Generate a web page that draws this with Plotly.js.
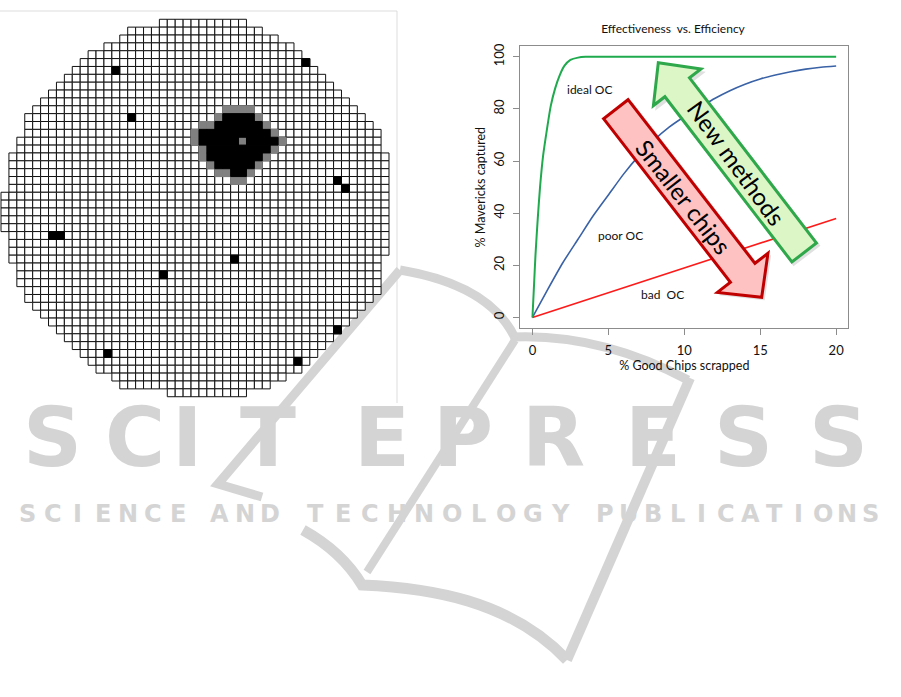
<!DOCTYPE html>
<html><head><meta charset="utf-8">
<script src="https://cdn.plot.ly/plotly-3.0.1.min.js"></script>
<style>html,body{margin:0;padding:0;background:#fff}#chart{width:901px;height:697px}</style>
</head><body><div id="chart"></div>
<script>
// ---------------- data ----------------
// Effectiveness vs. Efficiency curves
const xIdeal = [0,0.1,0.2,0.35,0.5,0.7,0.95,1.2,1.5,1.8,2.1,2.5,3.0,3.5,4,5,8,12,16,20];
const yIdeal = [0,12,24,38,50,62,72,81,88,93,96.5,98.8,99.7,100,100,100,100,100,100,100];
const xPoor = [0,1,2,3,4,5,6,7,8,9,10,11,12,13,14,15,16,17,18,19,20];
const yPoor = [0,10.7,21,30,39,47,55,62,68,73,77,80.5,84,87,89.5,91.5,93,94.3,95.3,96,96.5];
const xBad = [0,5,10,15,20];
const yBad = [0,9.5,19.2,28.6,38];
const xTickVals = [0,5,10,15,20];
const yTickVals = [0,20,40,60,80,100];
const curveNames = ['ideal OC','poor OC','bad\u00a0 OC'];

// Wafer map: first / last die column of each row (row 0 = top)
const rowFirst = [20,16,15,13,11,10,9,8,7,6,5,4,3,3,3,2,2,1,1,1,1,1,0,0,0,0,0,1,1,1,1,2,2,2,3,3,4,5,6,7,8,9,10,11,12,14,15,21];
const rowLast  = [30,32,34,36,37,38,39,40,41,42,43,44,45,46,47,47,47,48,48,48,48,48,48,48,48,48,48,48,48,48,47,47,47,47,47,46,45,44,43,42,41,40,39,38,37,35,33,30];
// failing dies (black)
const blackCol = [14,38,16,42,43,6,7,29,20,42,13,37,
  28,29,30,31,
  27,28,29,30,31,32,
  25,26,27,28,29,30,31,32,33,
  25,26,27,28,29,31,32,33,34,
  26,27,28,29,30,31,32,33,
  26,27,28,29,30,31,32,
  27,28,29,30,31,
  29,30];
const blackRow = [6,5,12,20,21,27,27,30,32,39,42,43,
  12,12,12,12,
  13,13,13,13,13,13,
  14,14,14,14,14,14,14,14,14,
  15,15,15,15,15,15,15,15,15,
  16,16,16,16,16,16,16,16,
  17,17,17,17,17,17,17,
  18,18,18,18,18,
  19,19];
// suspect dies (gray)
const grayCol = [28,29,30,31, 27,32, 25,26,33, 24,34, 24,30,35, 25,34, 25,33, 26,32, 27,28,31, 29,30];
const grayRow = [11,11,11,11, 12,12, 13,13,13, 14,14, 15,15,15, 16,16, 17,17, 18,18, 19,19,19, 20,20];

// ---------------- layout helpers (pixel -> paper) ----------------
const W = 901, H = 697;
const px = x => x / W, py = y => 1 - y / H;
function pathCmd(cmds){
  return cmds.map(c => c[0] + ' ' + c.slice(1).reduce((s,v,i,a)=> i%2 ? s : s + (s?' ':'') + px(a[i]).toFixed(5) + ',' + py(a[i+1]).toFixed(5), '')).join(' ');
}
function arrowPath(T, P, w, h, L){
  const dx = P[0]-T[0], dy = P[1]-T[1], len = Math.hypot(dx,dy);
  const ux = dx/len, uy = dy/len, nx = -uy, ny = ux;
  const B = [P[0]-ux*L, P[1]-uy*L];
  const pts = [[T[0]+nx*w,T[1]+ny*w],[B[0]+nx*w,B[1]+ny*w],[B[0]+nx*h,B[1]+ny*h],P,
               [B[0]-nx*h,B[1]-ny*h],[B[0]-nx*w,B[1]-ny*w],[T[0]-nx*w,T[1]-ny*w]];
  return pts.map((p,i)=>(i?'L':'M')+px(p[0]).toFixed(5)+','+py(p[1]).toFixed(5)).join(' ')+' Z';
}

// wafer die positions
const dieX = [], dieY = [];
for (let r = 0; r < rowFirst.length; r++)
  for (let c = rowFirst[r]; c <= rowLast[r]; c++) { dieX.push(c); dieY.push(r); }

const lineFont = 'Lato, "Open Sans", sans-serif';
const traces = [
  {x: dieX, y: dieY, xaxis:'x2', yaxis:'y2', type:'scatter', mode:'markers', cliponaxis:false, hoverinfo:'skip',
   marker:{symbol:'square', size:7.9, color:'#ffffff', line:{color:'#111111', width:1}}},
  {x: grayCol, y: grayRow, xaxis:'x2', yaxis:'y2', type:'scatter', mode:'markers', cliponaxis:false, hoverinfo:'skip',
   marker:{symbol:'square', size:7.9, color:'#808080', line:{color:'#808080', width:1}}},
  {x: blackCol, y: blackRow, xaxis:'x2', yaxis:'y2', type:'scatter', mode:'markers', cliponaxis:false, hoverinfo:'skip',
   marker:{symbol:'square', size:7.9, color:'#000000', line:{color:'#000000', width:1}}},
  {x: xBad, y: yBad, name: curveNames[2], type:'scatter', mode:'lines', line:{color:'#ff1a1a', width:1.6}},
  {x: xPoor, y: yPoor, name: curveNames[1], type:'scatter', mode:'lines', line:{color:'#3a62a6', width:1.6, shape:'spline', smoothing:0.6}},
  {x: xIdeal, y: yIdeal, name: curveNames[0], type:'scatter', mode:'lines', line:{color:'#1faa4e', width:2, shape:'spline', smoothing:0.6}}
];

const wmColor = '#d4d4d4';
const shapes = [
  {type:'line', xref:'paper', yref:'paper', x0:px(0), y0:py(11), x1:px(397), y1:py(11), line:{color:'#dddddd', width:1}, layer:'below'},
  {type:'line', xref:'paper', yref:'paper', x0:px(397), y0:py(11), x1:px(397), y1:py(403), line:{color:'#dddddd', width:1}, layer:'below'},
  {type:'path', xref:'paper', yref:'paper', layer:'below', line:{color:wmColor, width:9},
   path: pathCmd([['M',400,270],['Q',490,285,515,338]])},
  {type:'path', xref:'paper', yref:'paper', layer:'below', line:{color:wmColor, width:9},
   path: pathCmd([['M',512,337],['Q',600,333,688,380]])},
  {type:'path', xref:'paper', yref:'paper', layer:'below', line:{color:wmColor, width:8},
   path: pathCmd([['M',515,340],['L',367,572]])},
  {type:'path', xref:'paper', yref:'paper', layer:'below', line:{color:wmColor, width:9},
   path: pathCmd([['M',400,270],['L',218,484],['L',262,497]])},
  {type:'path', xref:'paper', yref:'paper', layer:'below', line:{color:wmColor, width:11},
   path: pathCmd([['M',303,530],['C',330,545,350,565,362,585],['C',430,588,510,600,567,660]])},
  {type:'path', xref:'paper', yref:'paper', layer:'below', line:{color:wmColor, width:10},
   path: pathCmd([['M',567,660],['L',690,378]])},
  {type:'path', xref:'paper', yref:'paper', layer:'above', fillcolor:'rgba(0,0,0,0.12)', line:{width:0},
   path: arrowPath([807,256],[661,66],17,32,32)},
  {type:'path', xref:'paper', yref:'paper', layer:'above', fillcolor:'#dcf6c6', line:{color:'#2ea84a', width:3},
   path: arrowPath([804.2,252.5],[658.3,62.7],15.5,30,31)},
  {type:'path', xref:'paper', yref:'paper', layer:'above', fillcolor:'rgba(0,0,0,0.12)', line:{width:0},
   path: arrowPath([618.8,112.2],[764.7,300.3],17,33,32)},
  {type:'path', xref:'paper', yref:'paper', layer:'above', fillcolor:'#ffc2c2', line:{color:'#c00000', width:3},
   path: arrowPath([615.8,109.2],[761.7,297.3],15.5,32,31)}
];

const annotations = [
  {x:3.73, y:87.6, xref:'x', yref:'y', text:curveNames[0], showarrow:false, font:{family:lineFont, size:12, color:'#111'}},
  {x:5.81, y:31.5, xref:'x', yref:'y', text:curveNames[1], showarrow:false, font:{family:lineFont, size:12, color:'#111'}},
  {x:8.57, y:8.95, xref:'x', yref:'y', text:curveNames[2], showarrow:false, font:{family:lineFont, size:12, color:'#111'}},
  {x:px(794), y:py(92), xref:'paper', yref:'paper', text:'New methods', textangle:54, showarrow:false,
   font:{family:lineFont, size:24, color:'#000'}},
  {x:px(740), y:py(131), xref:'paper', yref:'paper', text:'Smaller chips', textangle:52, showarrow:false,
   font:{family:lineFont, size:24, color:'#000'}}
];

const bigWord = 'SCITEPRESS';
const bigCenters = [52,135,187,268,382,463,553,653,743,838];
bigWord.split('').forEach((ch,i)=>annotations.push({x:px(bigCenters[i]), y:py(437), xref:'paper', yref:'paper',
  text:ch, showarrow:false, xanchor:'center', yanchor:'middle',
  font:{family:'DejaVu Sans', weight:'bold', size:82, color:wmColor}}));
const smallWords = [['SCIENCE',15,190],['AND',207,283],['TECHNOLOGY',302,574],['PUBLICATIONS',593,883]];
smallWords.forEach(([w,a,b])=>{
  const pitch = (b-a)/w.length;
  w.split('').forEach((ch,i)=>annotations.push({x:px(a+pitch*(i+0.5)), y:py(514), xref:'paper', yref:'paper',
    text:ch, showarrow:false, xanchor:'center', yanchor:'middle',
    font:{family:'DejaVu Sans', weight:'bold', size:24, color:wmColor}}));
});

const axisGray = '#8c8c8c';
const layout = {
  width: W, height: H, margin:{l:0,r:0,t:0,b:0},
  paper_bgcolor:'#ffffff', plot_bgcolor:'rgba(0,0,0,0)', showlegend:false,
  font:{family:lineFont, color:'#111'},
  title:{text:'Effectiveness\u00a0 vs. Efficiency', x:px(673), xanchor:'center', y:py(29), yanchor:'middle',
         font:{family:lineFont, size:12, color:'#111'}},
  xaxis:{domain:[px(520.3), px(848.3)], range:[-0.8,20.8], tickvals:xTickVals, ticktext:xTickVals.map(String),
         ticks:'outside', ticklen:6, tickcolor:axisGray, showline:true, mirror:true, linecolor:axisGray, linewidth:1,
         showgrid:false, zeroline:false, tickfont:{size:13, color:'#111'}, ticklabelstandoff:4,
         title:{text:'% Good Chips scrapped', standoff:1, font:{size:12.5, color:'#111'}}, anchor:'y', fixedrange:true},
  yaxis:{domain:[py(328.3), py(46)], range:[-4.16,104.16], tickvals:yTickVals, ticktext:yTickVals.map(String),
         tickangle:-90, ticks:'outside', ticklen:6, tickcolor:axisGray, showline:true, mirror:true, linecolor:axisGray, linewidth:1,
         showgrid:false, zeroline:false, tickfont:{size:13, color:'#111'}, ticklabelstandoff:4,
         title:{text:'% Mavericks captured', font:{size:12.5, color:'#111'}}, anchor:'x', fixedrange:true},
  xaxis2:{domain:[px(1), px(389)], range:[-0.5,48.5], visible:false, anchor:'y2', fixedrange:true},
  yaxis2:{domain:[py(396.7), py(19.3)], range:[47.5,-0.5], visible:false, anchor:'x2', fixedrange:true},
  shapes: shapes,
  annotations: annotations
};

Plotly.newPlot('chart', traces, layout, {displayModeBar:false, staticPlot:true});
</script>
</body></html>
